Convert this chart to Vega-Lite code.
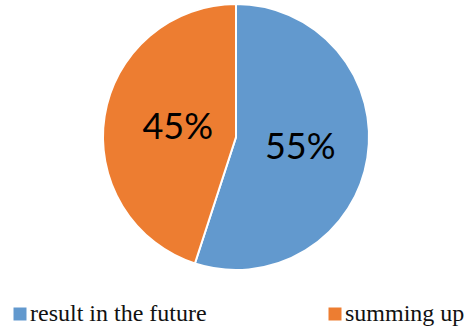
{
  "$schema": "https://vega.github.io/schema/vega-lite/v6.json",
  "width": 472,
  "height": 274,
  "padding": {"left": 0, "right": 0, "top": 0, "bottom": 57},
  "autosize": {"type": "none"},
  "background": "white",
  "data": {"values": [
    {"category": "result in the future", "value": 55, "label": "55%", "ord": 1},
    {"category": "summing up", "value": 45, "label": "45%", "ord": 2}
  ]},
  "encoding": {
    "theta": {"field": "value", "type": "quantitative", "stack": true},
    "order": {"field": "ord", "type": "quantitative"}
  },
  "layer": [
    {
      "mark": {"type": "arc", "outerRadius": 133, "stroke": "white", "strokeWidth": 2},
      "encoding": {
        "color": {
          "field": "category", "type": "nominal",
          "scale": {"domain": ["result in the future", "summing up"], "range": ["#6299CE", "#ED7D31"]},
          "legend": {
            "title": null, "orient": "none", "legendX": 8, "legendY": 302,
            "direction": "horizontal", "symbolType": "square", "symbolSize": 169,
            "symbolStrokeWidth": 0, "labelFont": "Liberation Serif", "labelFontSize": 24,
            "labelColor": "#111111", "labelOffset": -2, "columnPadding": 116, "labelLimit": 300
          }
        }
      }
    },
    {
      "mark": {"type": "text", "radius": 62, "dx": 3, "dy": 1, "font": "Lato", "fontSize": 36, "color": "black"},
      "encoding": {"text": {"field": "label"}}
    }
  ]
}
